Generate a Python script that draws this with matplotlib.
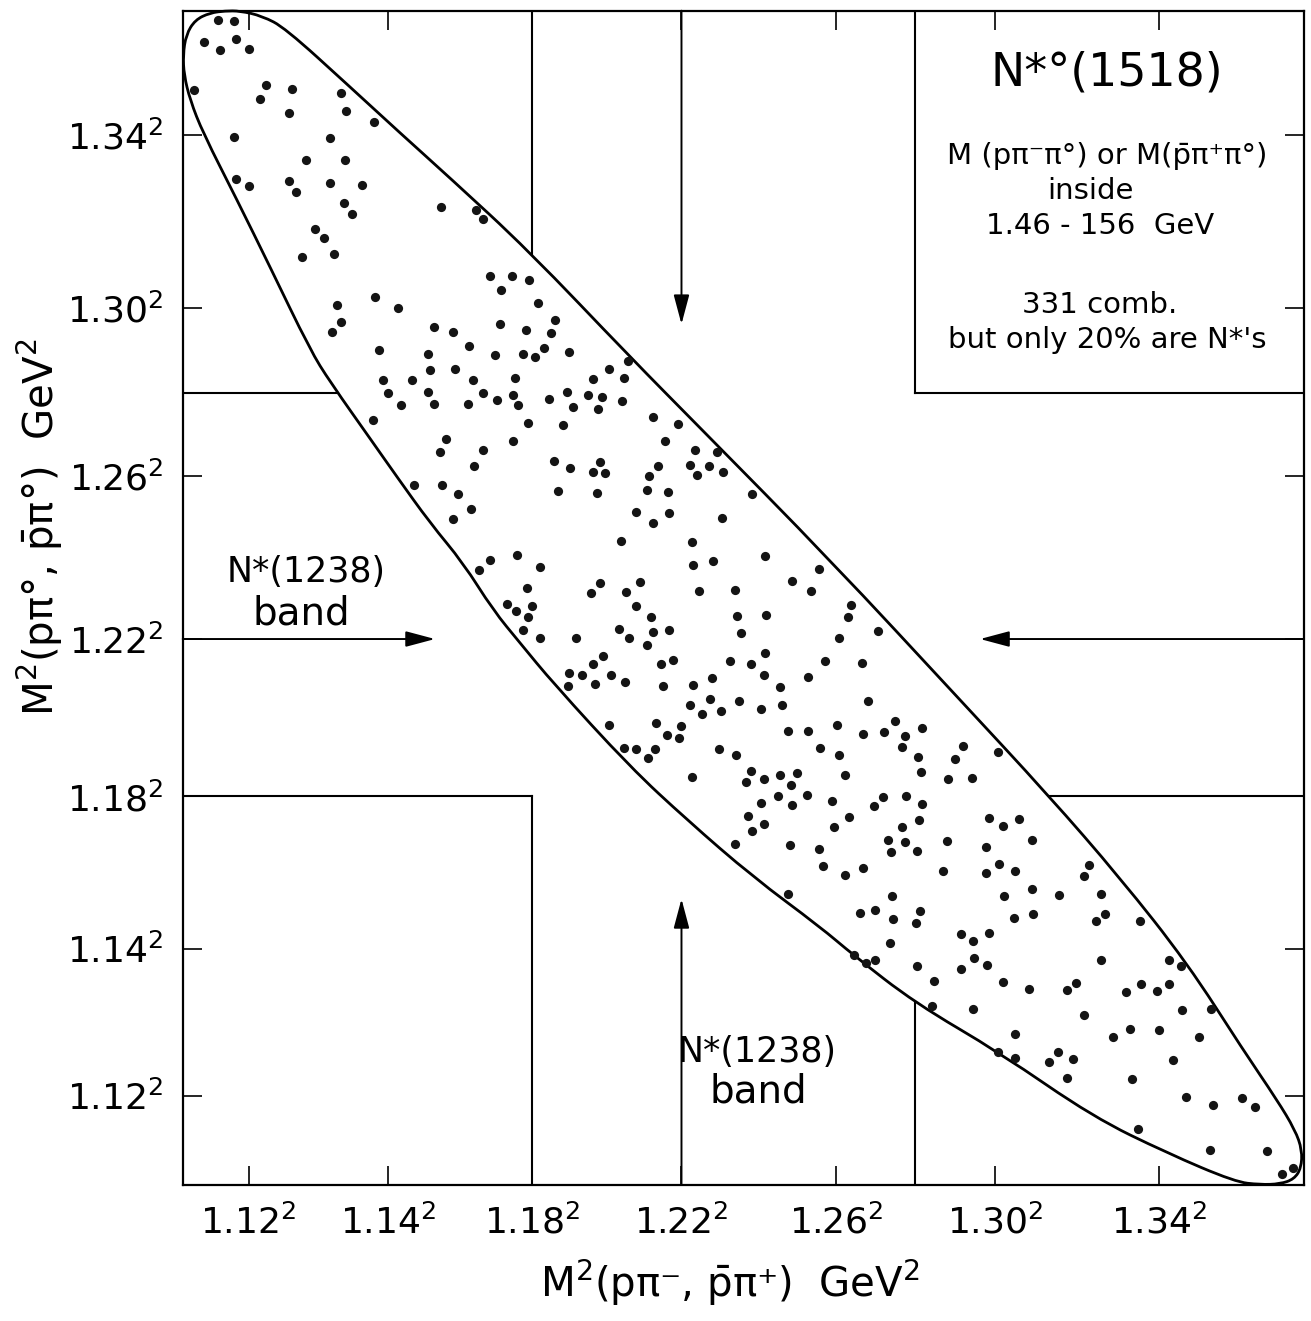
import numpy as np
import matplotlib
matplotlib.use("Agg")
import matplotlib.pyplot as plt
from matplotlib.path import Path
from matplotlib.patches import PathPatch

plt.rcParams['font.family'] = ['DejaVu Sans']
plt.rcParams['mathtext.default'] = 'regular'

# axis ticks: squared masses (GeV^2) and the labels written on the plot
tick_pos = [1.2100, 1.2996, 1.3924, 1.4884, 1.5876, 1.6900, 1.7956]
tick_txt = ['1.12', '1.14', '1.18', '1.22', '1.26', '1.30', '1.34']

# N*(1238) band edges and centre (1.18^2, 1.22^2, 1.28^2)
band_lo = 1.3924
band_mid = 1.4884
band_hi = 1.6384

x_range = (1.16765, 1.88875)
y_range = (1.15549, 1.87152)

# events (M^2(p pi-), M^2(p pi0)) in four strips
events_a = [(1.1904, 1.8658), (1.2007, 1.8652), (1.1814, 1.8524), (1.1917, 1.8475), (1.2020, 1.8542),
            (1.2103, 1.8481), (1.1750, 1.8231), (1.2213, 1.8262), (1.2174, 1.8176), (1.2380, 1.8237),
            (1.2360, 1.8091), (1.2695, 1.8213), (1.2727, 1.8103), (1.2907, 1.8036), (1.2007, 1.7945),
            (1.2624, 1.7939), (1.2470, 1.7804), (1.2721, 1.7804), (1.2020, 1.7689), (1.2103, 1.7646),
            (1.2360, 1.7676), (1.2405, 1.7609), (1.2624, 1.7664), (1.2830, 1.7652), (1.2714, 1.7542),
            (1.2766, 1.7475), (1.3338, 1.7518), (1.3563, 1.7500), (1.3608, 1.7445), (1.2528, 1.7384),
            (1.2586, 1.7329), (1.2444, 1.7213)]

events_b = [(1.2650, 1.7232), (1.3651, 1.7100), (1.3792, 1.7100), (1.3906, 1.7075), (1.3722, 1.7010),
            (1.2916, 1.6971), (1.2667, 1.6921), (1.3063, 1.6904), (1.3959, 1.6935), (1.4071, 1.6827),
            (1.2695, 1.6815), (1.3717, 1.6803), (1.3291, 1.6785), (1.3882, 1.6768), (1.2635, 1.6758),
            (1.4043, 1.6752), (1.3417, 1.6754), (1.3516, 1.6671), (1.2939, 1.6644), (1.3256, 1.6620),
            (1.3687, 1.6618), (1.3867, 1.6622), (1.3942, 1.6602), (1.4000, 1.6656), (1.4163, 1.6632),
            (1.4540, 1.6581), (1.4420, 1.6532), (1.3269, 1.6526), (1.3426, 1.6530), (1.3814, 1.6478),
            (1.4317, 1.6469), (1.4517, 1.6478), (1.2965, 1.6463), (1.3153, 1.6461), (1.3546, 1.6465),
            (1.2997, 1.6386), (1.3252, 1.6390), (1.3610, 1.6382), (1.3803, 1.6372), (1.4146, 1.6392),
            (1.4283, 1.6372), (1.4371, 1.6360), (1.3081, 1.6313), (1.3295, 1.6319), (1.3511, 1.6315),
            (1.3700, 1.6339), (1.3831, 1.6311), (1.4032, 1.6347), (1.4189, 1.6301), (1.4345, 1.6289),
            (1.4504, 1.6333), (1.2903, 1.6221), (1.3899, 1.6203), (1.4122, 1.6187), (1.4701, 1.6236),
            (1.4860, 1.6195), (1.3368, 1.6104), (1.3801, 1.6093), (1.4778, 1.6093), (1.3329, 1.6024),
            (1.3606, 1.6037), (1.4969, 1.6037), (1.5113, 1.6024), (1.4064, 1.5969), (1.4360, 1.5965),
            (1.3550, 1.5941), (1.4165, 1.5925), (1.4313, 1.5900), (1.4392, 1.5898), (1.4733, 1.5941),
            (1.4678, 1.5880), (1.4939, 1.5947), (1.4984, 1.5882), (1.5063, 1.5941), (1.5153, 1.5904),
            (1.3164, 1.5821), (1.3342, 1.5821), (1.4088, 1.5789), (1.4339, 1.5774), (1.4665, 1.5793),
            (1.4795, 1.5778), (1.3447, 1.5768), (1.5338, 1.5768), (1.3533, 1.5677), (1.4592, 1.5661),
            (1.4806, 1.5655), (1.3415, 1.5614), (1.4701, 1.5593), (1.5145, 1.5620), (1.4495, 1.5484),
            (1.4954, 1.5476), (1.3824, 1.5394), (1.3651, 1.5364), (1.3582, 1.5307), (1.3972, 1.5321),
            (1.5424, 1.5390), (1.4960, 1.5335), (1.5085, 1.5360), (1.5771, 1.5309), (1.4360, 1.5228),
            (1.4618, 1.5234), (1.4305, 1.5167), (1.4528, 1.5173), (1.4995, 1.5175), (1.5228, 1.5181),
            (1.5593, 1.5240), (1.5715, 1.5179), (1.3891, 1.5197), (1.3764, 1.5098), (1.3818, 1.5053)]

events_c = [(1.3921, 1.5083), (1.3897, 1.5016), (1.3863, 1.4937), (1.3977, 1.4890), (1.4590, 1.5083),
            (1.4691, 1.5020), (1.4699, 1.4925), (1.4804, 1.4941), (1.4481, 1.4945), (1.4549, 1.4888),
            (1.4665, 1.4850), (1.4208, 1.4892), (1.5242, 1.5027), (1.5428, 1.5031), (1.5269, 1.4919),
            (1.5973, 1.5090), (1.5953, 1.5016), (1.5900, 1.4892), (1.6150, 1.4935), (1.5419, 1.4801),
            (1.5196, 1.4752), (1.5334, 1.4734), (1.5413, 1.4663), (1.5805, 1.4748), (1.6043, 1.4736),
            (1.5696, 1.4655), (1.4378, 1.4779), (1.4315, 1.4732), (1.4161, 1.4675), (1.4247, 1.4665),
            (1.4155, 1.4596), (1.4330, 1.4610), (1.4431, 1.4667), (1.4519, 1.4620), (1.4755, 1.4732),
            (1.4830, 1.4756), (1.4763, 1.4596), (1.4961, 1.4606), (1.5081, 1.4644), (1.4939, 1.4482),
            (1.5070, 1.4518), (1.5016, 1.4427), (1.5139, 1.4445), (1.5257, 1.4506), (1.5394, 1.4455),
            (1.5518, 1.4594), (1.5531, 1.4484), (1.6082, 1.4506), (1.4416, 1.4362), (1.4721, 1.4370),
            (1.4791, 1.4301), (1.4881, 1.4352), (1.4866, 1.4283), (1.4515, 1.4222), (1.4592, 1.4216),
            (1.4714, 1.4212), (1.4669, 1.4161), (1.5567, 1.4325), (1.5698, 1.4323), (1.5882, 1.4360),
            (1.6052, 1.4307), (1.6189, 1.4317), (1.6260, 1.4386), (1.6322, 1.4293), (1.6433, 1.4344),
            (1.6300, 1.4224), (1.5128, 1.4214), (1.5233, 1.4177), (1.5777, 1.4218), (1.5895, 1.4179),
            (1.6403, 1.4167), (1.6697, 1.4230), (1.6646, 1.4153), (1.6922, 1.4197), (1.4950, 1.4043),
            (1.5329, 1.4077), (1.5297, 1.4012), (1.5417, 1.4033), (1.5516, 1.4055), (1.5629, 1.4065),
            (1.5589, 1.3992), (1.5394, 1.3886), (1.5503, 1.3927), (1.5597, 1.3872), (1.5312, 1.3803),
            (1.5338, 1.3712), (1.5415, 1.3756), (1.5226, 1.3636), (1.5582, 1.3630), (1.5567, 1.3329)]

events_d = [(1.5935, 1.4057), (1.5689, 1.3935), (1.5850, 1.3896), (1.6120, 1.3866), (1.6180, 1.3919),
            (1.6326, 1.3929), (1.6431, 1.3880), (1.5961, 1.3801), (1.5865, 1.3740), (1.6300, 1.3740),
            (1.6413, 1.3778), (1.5768, 1.3606), (1.6210, 1.3660), (1.6231, 1.3587), (1.6321, 1.3644),
            (1.6401, 1.3591), (1.6591, 1.3650), (1.6600, 1.4028), (1.6754, 1.4036), (1.6426, 1.4073),
            (1.6861, 1.3795), (1.6949, 1.3746), (1.7054, 1.3786), (1.7136, 1.3656), (1.6844, 1.3616),
            (1.6928, 1.3510), (1.7029, 1.3469), (1.6840, 1.3459), (1.6568, 1.3469), (1.5792, 1.3498),
            (1.5935, 1.3447), (1.6049, 1.3490), (1.7505, 1.3504), (1.7474, 1.3441), (1.6238, 1.3317),
            (1.6032, 1.3215), (1.6130, 1.3229), (1.6244, 1.3179), (1.6420, 1.3225), (1.6392, 1.3154),
            (1.6956, 1.3317), (1.7136, 1.3358), (1.7309, 1.3325), (1.7582, 1.3331), (1.7024, 1.3185),
            (1.7144, 1.3209), (1.7610, 1.3205), (1.7547, 1.3164), (1.7830, 1.3162), (1.6225, 1.3032),
            (1.5993, 1.2959), (1.6068, 1.2908), (1.6130, 1.2929), (1.6398, 1.2892), (1.6683, 1.3087),
            (1.6756, 1.3043), (1.6859, 1.3089), (1.6763, 1.2941), (1.6681, 1.2870), (1.6851, 1.2896),
            (1.6506, 1.2799), (1.6951, 1.2792), (1.7121, 1.2748), (1.7580, 1.2929), (1.8017, 1.2927),
            (1.8098, 1.2892), (1.7363, 1.2746), (1.7421, 1.2786), (1.7740, 1.2732), (1.7837, 1.2778),
            (1.7940, 1.2738), (1.8019, 1.2778), (1.6495, 1.2646), (1.6756, 1.2628), (1.7474, 1.2593),
            (1.8103, 1.2622), (1.8289, 1.2626), (1.7029, 1.2477), (1.6921, 1.2366), (1.7026, 1.2327),
            (1.7245, 1.2305), (1.7303, 1.2364), (1.7402, 1.2321), (1.7363, 1.2207), (1.7659, 1.2455),
            (1.7766, 1.2506), (1.7953, 1.2498), (1.8212, 1.2457), (1.8043, 1.2315), (1.7783, 1.2199),
            (1.8128, 1.2089), (1.8300, 1.2042), (1.8486, 1.2085), (1.8572, 1.2032), (1.7822, 1.1898),
            (1.8285, 1.1766), (1.8647, 1.1764), (1.8744, 1.1622), (1.8814, 1.1656)]

# hand drawn kinematic boundary, clockwise from the top
bound_x = [1.1949, 1.2045, 1.2187, 1.2335, 1.2753, 1.3074, 1.3396, 1.3897, 1.4553, 1.5004,
           1.5840, 1.6676, 1.7242, 1.7705, 1.8136, 1.8496, 1.8714, 1.8830, 1.8875, 1.8869,
           1.8824, 1.8733, 1.8605, 1.8444, 1.8007, 1.7531, 1.6933, 1.6386, 1.5988, 1.5775,
           1.5344, 1.4920, 1.4553, 1.4058, 1.3846, 1.3672, 1.3480, 1.3267, 1.3055, 1.2901,
           1.2624, 1.2496, 1.2238, 1.2026, 1.1807, 1.1724, 1.1685, 1.1679, 1.1698, 1.1756,
           1.1852]
bound_y = [1.8714, 1.8714, 1.8683, 1.8610, 1.8250, 1.7970, 1.7695, 1.7256, 1.6604, 1.6171,
           1.5366, 1.4512, 1.3933, 1.3427, 1.2909, 1.2378, 1.2073, 1.1890, 1.1768, 1.1659,
           1.1591, 1.1561, 1.1557, 1.1574, 1.1750, 1.1970, 1.2360, 1.2665, 1.2958, 1.3129,
           1.3433, 1.3781, 1.4104, 1.4616, 1.4860, 1.5061, 1.5348, 1.5592, 1.5872, 1.6080,
           1.6452, 1.6647, 1.7153, 1.7561, 1.7970, 1.8171, 1.8324, 1.8446, 1.8568, 1.8659,
           1.8702]

# where the band lines and arrows stop against the boundary
upper_cut_lo = 1.7229   # x = 1.18^2 line, top part
left_cut_hi = 1.2675    # y = 1.28^2 line, left part
right_cut_lo = 1.7250   # y = 1.18^2 line, right part
lower_cut_hi = 1.2666   # x = 1.28^2 line, bottom part
arrow_near = 1.3299
arrow_far = 1.6804

events = np.array(events_a + events_b + events_c + events_d)

fig = plt.figure(figsize=(13.11, 13.21), dpi=100)
ax = fig.add_axes([0.13936, 0.10295, 0.85534, 0.88895])
ax.set_xlim(*x_range)
ax.set_ylim(*y_range)

ax.scatter(events[:, 0], events[:, 1], s=44, c='#141414', linewidths=0, zorder=3)

# boundary as a closed smooth curve (quadratic segments through the read points)
pts = np.column_stack([bound_x, bound_y])
mids = (pts + np.roll(pts, -1, axis=0)) / 2
verts = [mids[-1]]
codes = [Path.MOVETO]
for p, m in zip(pts, mids):
    verts += [p, m]
    codes += [Path.CURVE3, Path.CURVE3]
ax.add_patch(PathPatch(Path(verts, codes), fill=False, ec='k', lw=2.0, zorder=2, clip_on=False))

lk = dict(color='k', lw=1.5, zorder=2)
x0, x1 = x_range
y0, y1 = y_range
# lower left square
ax.plot([x0, band_lo], [band_lo, band_lo], **lk)
ax.plot([band_lo, band_lo], [y0, band_lo], **lk)
# upper left
ax.plot([band_lo, band_lo], [upper_cut_lo, y1], **lk)
ax.plot([x0, left_cut_hi], [band_hi, band_hi], **lk)
# lower right
ax.plot([right_cut_lo, x1], [band_lo, band_lo], **lk)
ax.plot([band_hi, band_hi], [y0, lower_cut_hi], **lk)
# upper right box
ax.plot([band_hi, band_hi], [band_hi, y1], **lk)
ax.plot([band_hi, x1], [band_hi, band_hi], **lk)

ap = dict(arrowstyle='-|>,head_length=0.75,head_width=0.2', color='k', lw=1.4,
          shrinkA=0, shrinkB=0, mutation_scale=24)
ax.annotate('', xy=(arrow_near, band_mid), xytext=(x0, band_mid), arrowprops=ap)
ax.annotate('', xy=(arrow_far, band_mid), xytext=(x1, band_mid), arrowprops=ap)
ax.annotate('', xy=(band_mid, arrow_far), xytext=(band_mid, y1), arrowprops=ap)
ax.annotate('', xy=(band_mid, arrow_near), xytext=(band_mid, y0), arrowprops=ap)

# band labels
ax.text(1.2470, 1.5232, 'N*(1238)', fontsize=25, ha='center', va='baseline')
ax.text(1.2440, 1.4970, 'band', fontsize=28, ha='center', va='baseline')
ax.text(1.5368, 1.2305, 'N*(1238)', fontsize=25, ha='center', va='baseline')
ax.text(1.5375, 1.2055, 'band', fontsize=28, ha='center', va='baseline')

# text in the upper right box
ax.text(1.7621, 1.8262, 'N*°(1518)', fontsize=33, ha='center', va='baseline')
ax.text(1.7621, 1.7780, 'M (pπ⁻π°) or M(p\u0304π⁺π°)', fontsize=21, ha='center', va='baseline')
ax.text(1.7511, 1.7567, 'inside', fontsize=21, ha='center', va='baseline')
ax.text(1.7575, 1.7354, '1.46 - 156  GeV', fontsize=21, ha='center', va='baseline')
ax.text(1.7575, 1.6872, '331 comb.', fontsize=21, ha='center', va='baseline')
ax.text(1.7621, 1.6659, "but only 20% are N*'s", fontsize=21, ha='center', va='baseline')

ax.set_xticks(tick_pos)
ax.set_xticklabels([t + '$^2$' for t in tick_txt])
ax.set_yticks(tick_pos)
ax.set_yticklabels([t + '$^2$' for t in tick_txt])
ax.tick_params(direction='in', length=14, width=1.2, top=True, right=True, pad=14, labelsize=26)

for sp in ax.spines.values():
    sp.set_linewidth(1.6)

ax.set_xlabel('M$^2$(pπ⁻, p\u0304π⁺)  GeV$^2$', fontsize=29)
ax.xaxis.set_label_coords(0.488, -0.062)
ax.set_ylabel('M$^2$(pπ°, p\u0304π°)  GeV$^2$', fontsize=29)
ax.yaxis.set_label_coords(-0.105, 0.56)

fig.savefig('out.png', dpi=100)
